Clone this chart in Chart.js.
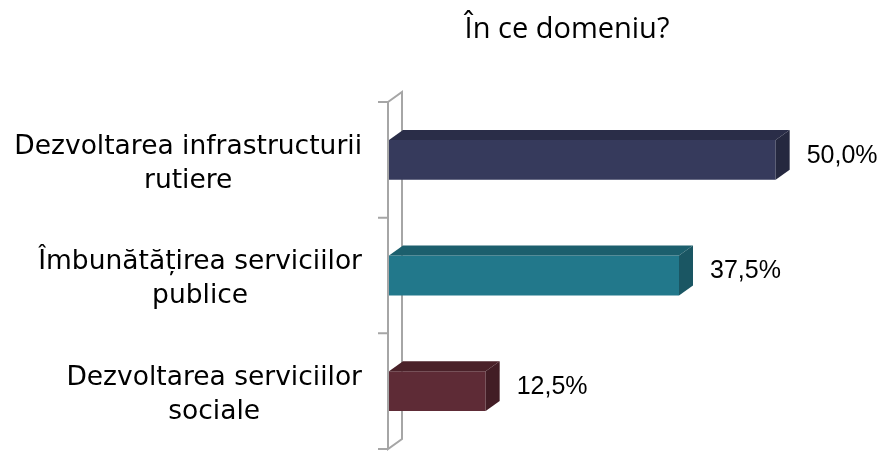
<!DOCTYPE html>
<html>
<head>
<meta charset="utf-8">
<script src="https://cdn.jsdelivr.net/npm/chart.js@4.4.1/dist/chart.umd.min.js"></script>
<style>
  html, body { margin: 0; padding: 0; background: #fff; }
  #wrap { width: 884px; height: 451px; position: relative; }
</style>
</head>
<body>
<div id="wrap"><canvas id="chart"></canvas></div>
<script>
// data
const titleText = 'În ce domeniu?';
const categories = [
    ['Dezvoltarea infrastructurii', 'rutiere'],
    ['Îmbunătățirea serviciilor', 'publice'],
    ['Dezvoltarea serviciilor', 'sociale']
];
const values = [50.0, 37.5, 12.5];
const frontColors = ['#363a5c', '#22788b', '#5e2b36'];
const topColors = ['#2a2d48', '#1c5f6d', '#4a2129'];
const sideColors = ['#25283f', '#1a5663', '#421d25'];

const DX = 14, DY = 10; // 3d depth

// axis with the little 3d wall
const axisPlugin = {
    id: 'axis3d',
    beforeDatasetsDraw(chart) {
        const ctx = chart.ctx;
        const a = chart.chartArea;
        const x0 = a.left - 1;
        ctx.save();
        ctx.strokeStyle = '#a6a6a6';
        ctx.lineWidth = 2;
        ctx.beginPath();
        ctx.moveTo(x0, a.top);
        ctx.lineTo(x0, a.bottom);
        ctx.lineTo(x0 + DX, a.bottom - DY);
        ctx.lineTo(x0 + DX, a.top - DY);
        ctx.lineTo(x0, a.top);
        // ticks between categories
        const n = categories.length;
        for (let i = 0; i <= n; i++) {
            const ty = a.top + (a.bottom - a.top) * i / n;
            ctx.moveTo(x0 - 10, ty);
            ctx.lineTo(x0, ty);
        }
        ctx.stroke();
        ctx.restore();
    }
};

// top and side faces + value labels
const barsPlugin = {
    id: 'bars3d',
    afterDatasetsDraw(chart) {
        const ctx = chart.ctx;
        const meta = chart.getDatasetMeta(0);
        ctx.save();
        meta.data.forEach((bar, i) => {
            const p = bar.getProps(['x', 'y', 'base', 'height'], true);
            const top = p.y - p.height / 2, bot = p.y + p.height / 2;
            ctx.fillStyle = topColors[i];
            ctx.beginPath();
            ctx.moveTo(p.base, top);
            ctx.lineTo(p.base + DX, top - DY);
            ctx.lineTo(p.x + DX, top - DY);
            ctx.lineTo(p.x, top);
            ctx.closePath();
            ctx.fill();
            ctx.fillStyle = sideColors[i];
            ctx.beginPath();
            ctx.moveTo(p.x, top);
            ctx.lineTo(p.x + DX, top - DY);
            ctx.lineTo(p.x + DX, bot - DY);
            ctx.lineTo(p.x, bot);
            ctx.closePath();
            ctx.fill();

            ctx.fillStyle = '#000';
            ctx.font = '25px "Liberation Sans", Arial, sans-serif';
            ctx.textAlign = 'left';
            ctx.textBaseline = 'middle';
            ctx.fillText(values[i].toFixed(1).replace('.', ',') + '%', p.x + DX + 17, p.y - DY / 2 + 1);
        });
        ctx.restore();
    }
};

// category labels, each line centred, block right aligned
const labelPlugin = {
    id: 'catLabels',
    afterDraw(chart) {
        const ctx = chart.ctx;
        const y = chart.scales.y;
        const right = 362, lh = 34;
        ctx.save();
        ctx.font = '26.5px "DejaVu Sans", sans-serif';
        ctx.fillStyle = '#000';
        ctx.textAlign = 'center';
        ctx.textBaseline = 'middle';
        categories.forEach((lines, i) => {
            const cy = y.getPixelForValue(i) + 4;
            const w = Math.max(...lines.map(l => ctx.measureText(l).width));
            const cx = right - w / 2;
            lines.forEach((l, j) => {
                ctx.fillText(l, cx, cy + (j - (lines.length - 1) / 2) * lh);
            });
        });
        ctx.font = '29px "Open Sans", sans-serif';
        ctx.textBaseline = 'alphabetic';
        ctx.fillText(titleText, 567, 38);
        ctx.restore();
    }
};

new Chart(document.getElementById('chart'), {
    type: 'bar',
    data: {
        labels: categories,
        datasets: [{
            data: values,
            backgroundColor: frontColors,
            barPercentage: 0.345,
            categoryPercentage: 1
        }]
    },
    options: {
        indexAxis: 'y',
        responsive: true,
        maintainAspectRatio: false,
        animation: false,
        layout: { padding: { top: 102, right: 31, bottom: 2, left: 0 } },
        plugins: { legend: { display: false }, tooltip: { enabled: false } },
        scales: {
            x: { display: false, min: 0, max: 60 },
            y: {
                offset: true,
                grid: { display: false },
                border: { display: false },
                ticks: { display: false },
                afterFit(scale) { scale.width = 389; }
            }
        }
    },
    plugins: [axisPlugin, barsPlugin, labelPlugin]
});
</script>
</body>
</html>
